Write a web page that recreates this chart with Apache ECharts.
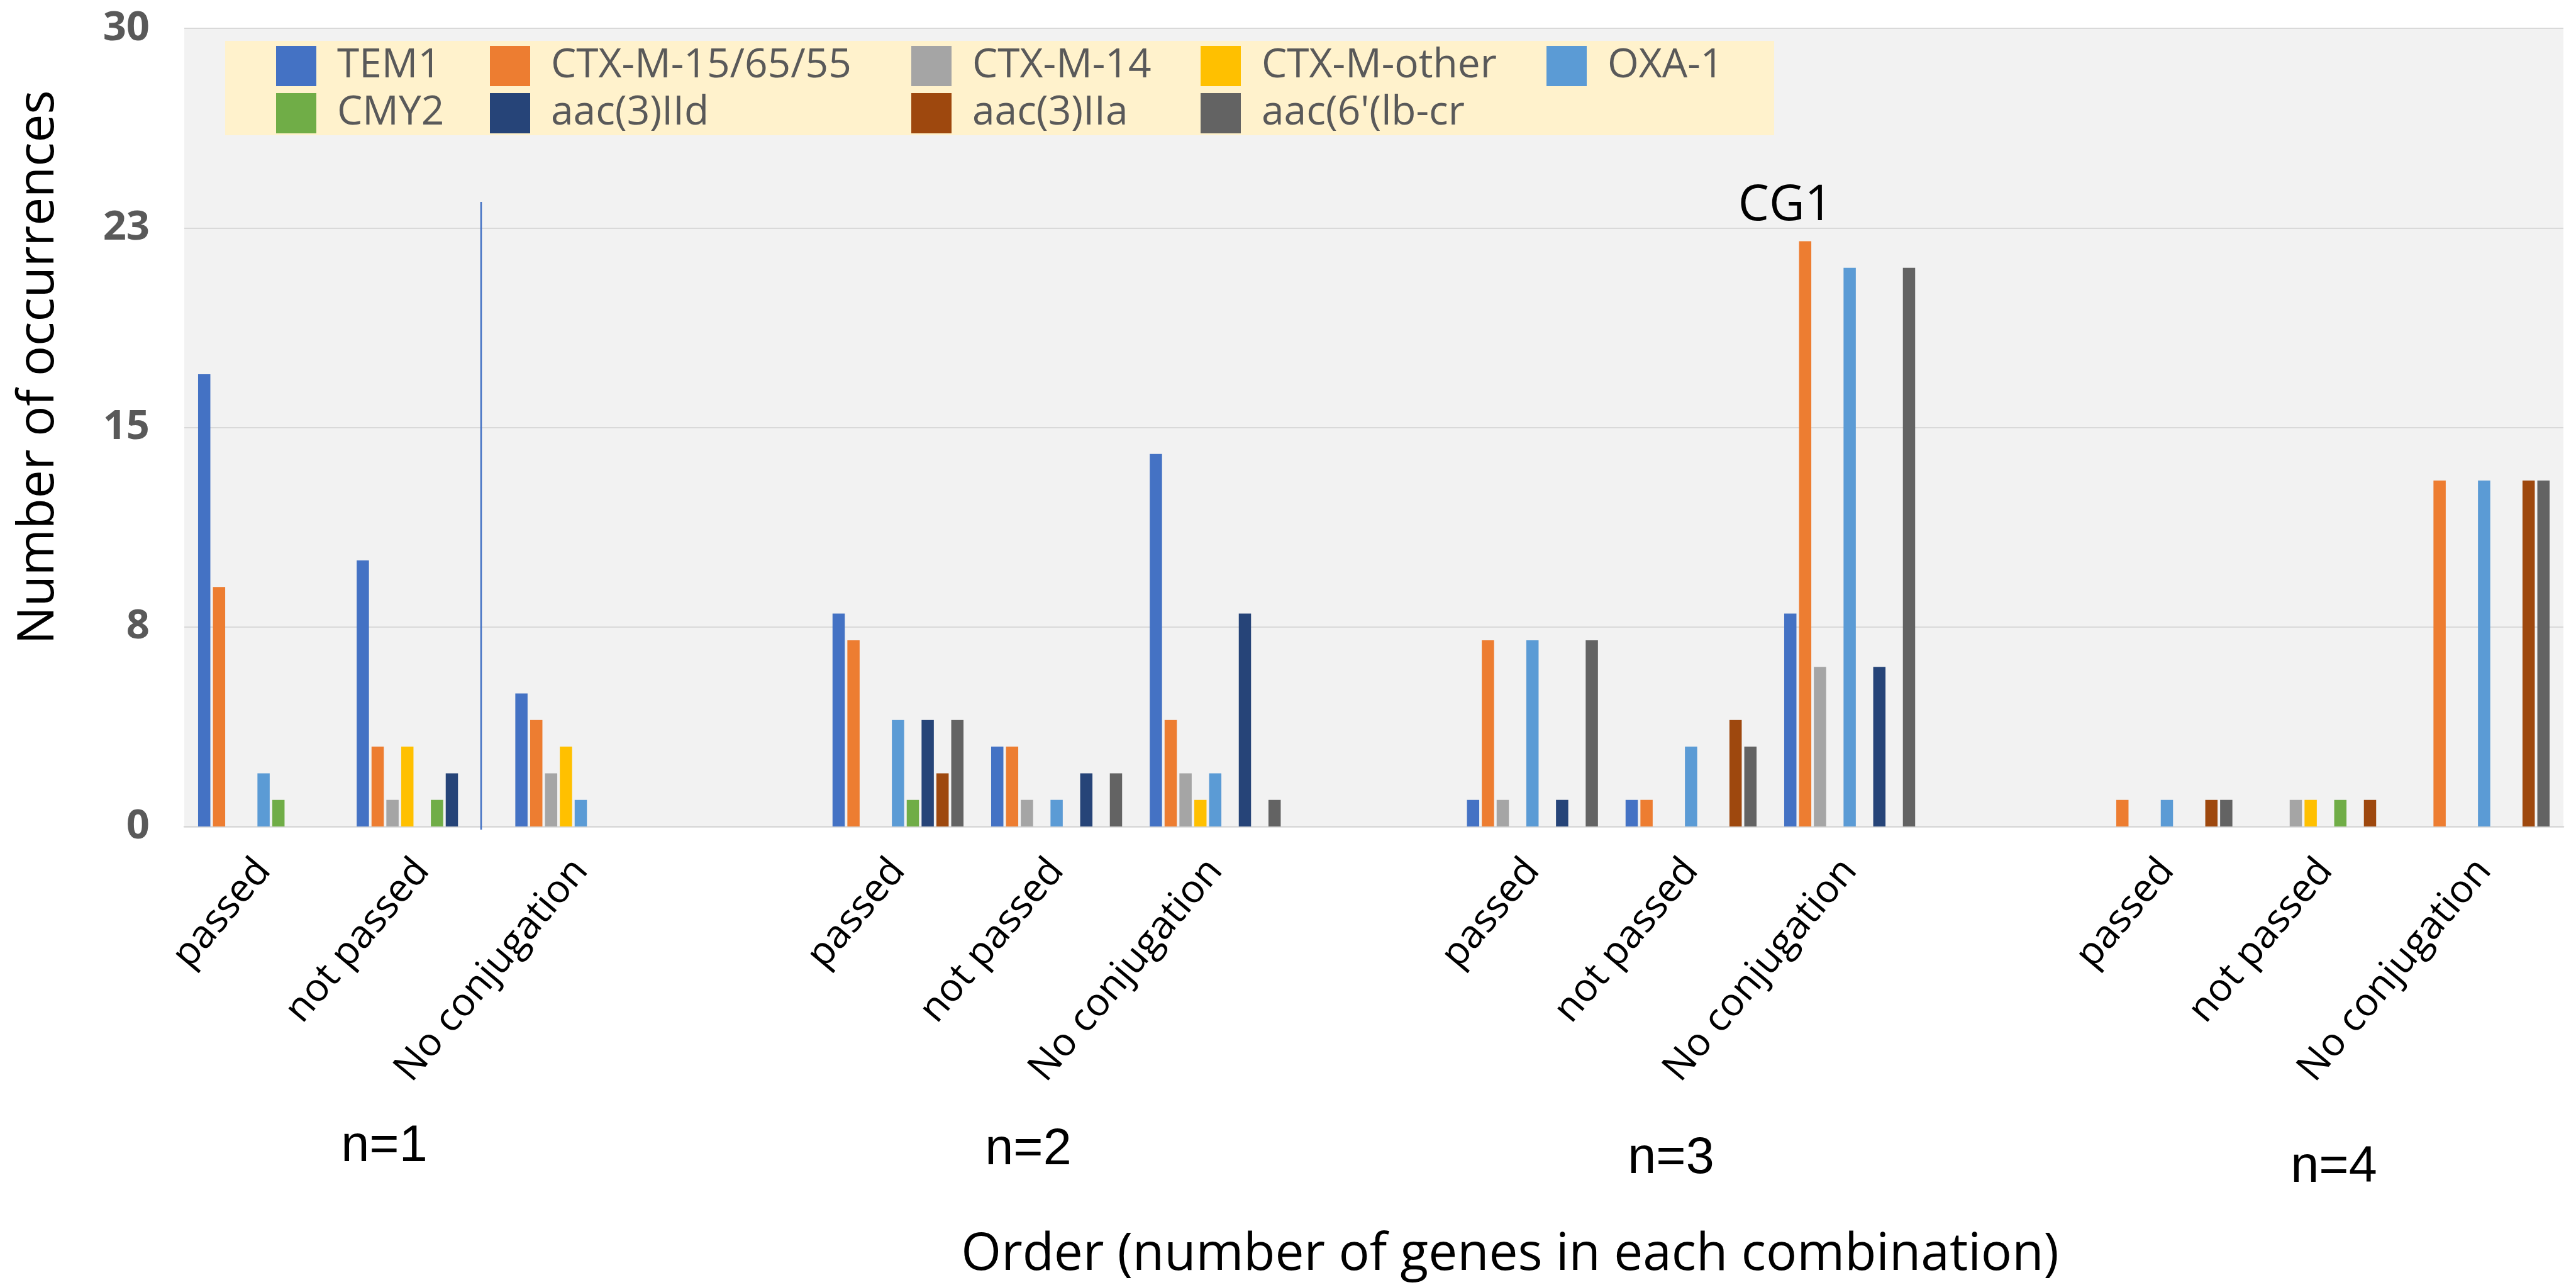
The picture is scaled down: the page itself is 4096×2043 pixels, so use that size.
<!DOCTYPE html>
<html>
<head>
<meta charset="utf-8">
<script src="https://cdn.jsdelivr.net/npm/echarts@6/dist/echarts.min.js"></script>
<style>
  html, body { margin: 0; padding: 0; background: #ffffff; }
  #chart { width: 4096px; height: 2043px; }
</style>
</head>
<body>
<div id="chart"></div>
<script>
// Categories: three conjugation outcomes per gene-combination order,
// with an empty slot separating each order group.
const categories = [
  'passed', 'not passed', 'No conjugation', '',
  'passed', 'not passed', 'No conjugation', '',
  'passed', 'not passed', 'No conjugation', '',
  'passed', 'not passed', 'No conjugation'
];

const seriesNames = [
  'TEM1', 'CTX-M-15/65/55', 'CTX-M-14', 'CTX-M-other', 'OXA-1',
  'CMY2', 'aac(3)IId', 'aac(3)IIa', "aac(6'(lb-cr"
];

// Occurrence counts per gene (null = separator slot)
const tem1       = [17, 10, 5, null, 8, 3, 14, null, 1, 1, 8, null, 0, 0, 0];
const ctxM15     = [9, 3, 4, null, 7, 3, 4, null, 7, 1, 22, null, 1, 0, 13];
const ctxM14     = [0, 1, 2, null, 0, 1, 2, null, 1, 0, 6, null, 0, 1, 0];
const ctxMOther  = [0, 3, 3, null, 0, 0, 1, null, 0, 0, 0, null, 0, 1, 0];
const oxa1       = [2, 0, 1, null, 4, 1, 2, null, 7, 3, 21, null, 1, 0, 13];
const cmy2       = [1, 1, 0, null, 1, 0, 0, null, 0, 0, 0, null, 0, 1, 0];
const aac3IId    = [0, 2, 0, null, 4, 2, 8, null, 1, 0, 6, null, 0, 0, 0];
const aac3IIa    = [0, 0, 0, null, 2, 0, 0, null, 0, 4, 0, null, 1, 1, 13];
const aac6lbcr   = [0, 0, 0, null, 4, 2, 1, null, 7, 3, 21, null, 1, 0, 13];

// Value axis ticks and their (rounded) labels
const yTicks = [0, 7.5, 15, 22.5, 30];
const yTickLabels = ['0', '8', '15', '23', '30'];

// Order group captions under the axis
const groupLabels = ['n=1', 'n=2', 'n=3', 'n=4'];

const yAxisTitle = 'Number of occurrences';
const xAxisTitle = 'Order (number of genes in each combination)';
const calloutLabel = 'CG1';

// Legend layout: one column per legend block
const legendColumns = [
  ['TEM1', 'CMY2'],
  ['CTX-M-15/65/55', 'aac(3)IId'],
  ['CTX-M-14', 'aac(3)IIa'],
  ['CTX-M-other', "aac(6'(lb-cr"],
  ['OXA-1']
];

const seriesValues = [tem1, ctxM15, ctxM14, ctxMOther, oxa1, cmy2, aac3IId, aac3IIa, aac6lbcr];
const colors = ['#4472C4', '#ED7D31', '#A5A5A5', '#FFC000', '#5B9BD5',
                '#70AD47', '#264478', '#9E480E', '#636363'];

const FONT = '"Open Sans", "Noto Sans", sans-serif';
const legendLefts = [439, 779, 1449, 1909, 2459];

const chart = echarts.init(document.getElementById('chart'), null, { renderer: 'canvas' });

const option = {
  animation: false,
  backgroundColor: '#ffffff',
  color: colors,
  grid: {
    left: 293, right: 20, top: 45, bottom: 729,
    show: true, backgroundColor: '#F2F2F2', borderWidth: 0
  },
  legend: legendColumns.map((col, ci) => ({
    data: col,
    orient: 'vertical',
    left: legendLefts[ci],
    top: 73,
    padding: 0,
    itemGap: 11,
    itemWidth: 64,
    itemHeight: 64,
    icon: 'rect',
    selectedMode: false,
    textStyle: {
      color: '#595959', fontSize: 64, fontFamily: FONT,
      lineHeight: 64, padding: [0, 0, 0, 28]
    }
  })),
  xAxis: {
    type: 'category',
    data: categories,
    axisLine: { show: true, lineStyle: { color: '#D9D9D9', width: 2.5 } },
    axisTick: { show: false },
    axisLabel: {
      interval: 0, rotate: 50, margin: 60,
      color: '#000000', fontSize: 62, fontFamily: FONT
    },
    splitLine: { show: false }
  },
  yAxis: {
    type: 'value',
    min: 0, max: 30, interval: 7.5,
    axisLine: { show: false },
    axisTick: { show: false },
    axisLabel: {
      margin: 55, color: '#595959', fontSize: 65, fontWeight: 'bold', fontFamily: FONT,
      formatter: v => {
        const i = yTicks.indexOf(v);
        return i >= 0 ? yTickLabels[i] : '';
      }
    },
    splitLine: { show: true, lineStyle: { color: '#D9D9D9', width: 2 } }
  },
  series: seriesNames.map((name, i) => ({
    name,
    type: 'bar',
    data: seriesValues[i],
    barWidth: 19.5,
    barGap: '21%',
    silent: true,
    itemStyle: { color: colors[i] }
  })),
  graphic: [
    // legend backdrop
    {
      type: 'rect', z: 1, silent: true,
      shape: { x: 358, y: 65, width: 2463, height: 150 },
      style: { fill: '#FFF2CC' }
    },
    // divider line drawn across the first group
    {
      type: 'line', z: 5, silent: true,
      shape: { x1: 765, y1: 321, x2: 765, y2: 1319 },
      style: { stroke: '#4472C4', lineWidth: 2.6 }
    },
    // callout above the largest cluster
    {
      type: 'text', z: 5, silent: true, x: 2839, y: 328,
      style: { text: calloutLabel, fontSize: 78, fontFamily: FONT, fill: '#000000',
               align: 'center', verticalAlign: 'middle' }
    },
    // group captions
    ...groupLabels.map((t, i) => ({
      type: 'text', z: 5, silent: true,
      x: [611, 1635, 2657, 3711][i], y: [1824, 1829, 1843, 1857][i],
      style: { text: t, fontSize: 81, fontFamily: '"Liberation Sans", Arial, sans-serif',
               fill: '#000000', align: 'center', verticalAlign: 'middle' }
    })),
    // axis titles
    {
      type: 'text', z: 5, silent: true, x: 62, y: 584, rotation: Math.PI / 2,
      style: { text: yAxisTitle, fontSize: 80, fontFamily: FONT, fill: '#000000',
               align: 'center', verticalAlign: 'middle' }
    },
    {
      type: 'text', z: 5, silent: true, x: 2401, y: 1996,
      style: { text: xAxisTitle, fontSize: 82, fontFamily: FONT, fill: '#000000',
               align: 'center', verticalAlign: 'middle' }
    }
  ]
};

chart.setOption(option);
</script>
</body>
</html>
